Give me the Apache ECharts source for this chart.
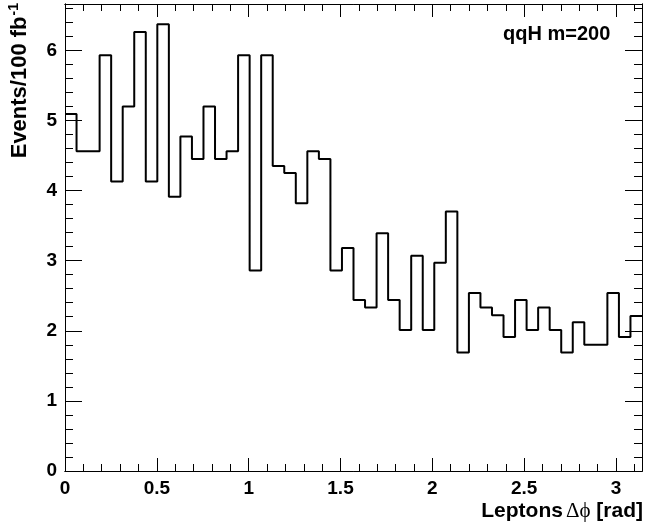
<!DOCTYPE html>
<html>
<head>
<meta charset="utf-8">
<script src="https://cdn.jsdelivr.net/npm/echarts@6/dist/echarts.min.js"></script>
<style>
  html, body { margin: 0; padding: 0; background: #fff; }
  #main { width: 645px; height: 529px; }
</style>
</head>
<body>
<div id="main"></div>
<script>
// histogram contents, 50 bins from 0 to pi
var binValues = [
    5.09, 4.56, 4.56, 5.93, 4.13, 5.20, 6.26, 4.13, 6.37, 3.91,
    4.77, 4.45, 5.20, 4.45, 4.56, 5.93, 2.86, 5.93, 4.35, 4.25,
    3.82, 4.56, 4.45, 2.86, 3.18, 2.44, 2.33, 3.39, 2.44, 2.01,
    3.07, 2.01, 2.97, 3.70, 1.69, 2.54, 2.33, 2.22, 1.91, 2.44,
    2.01, 2.33, 2.01, 1.69, 2.12, 1.80, 1.80, 2.54, 1.91, 2.21
];
var xMin = 0;
var xMax = Math.PI;
var yMin = 0;
var yMax = 6.66;

// tick labels / tick positions
var xMajor = [0, 0.5, 1, 1.5, 2, 2.5, 3];
var xMinor = [0.1, 0.2, 0.3, 0.4, 0.6, 0.7, 0.8, 0.9, 1.1, 1.2, 1.3, 1.4,
              1.6, 1.7, 1.8, 1.9, 2.1, 2.2, 2.3, 2.4, 2.6, 2.7, 2.8, 2.9, 3.1];
var yMajor = [0, 1, 2, 3, 4, 5, 6];
var yMinor = [0.2, 0.4, 0.6, 0.8, 1.2, 1.4, 1.6, 1.8, 2.2, 2.4, 2.6, 2.8,
              3.2, 3.4, 3.6, 3.8, 4.2, 4.4, 4.6, 4.8, 5.2, 5.4, 5.6, 5.8,
              6.2, 6.4, 6.6];

var FONT = '"Liberation Sans", Arial, Helvetica, sans-serif';

var myChart = echarts.init(document.getElementById('main'));

// step line points: left edge of every bin, plus the right edge of the last one
var binWidth = (xMax - xMin) / binValues.length;
var stepData = [];
for (var i = 0; i < binValues.length; i++) {
    stepData.push([xMin + i * binWidth, binValues[i]]);
}
stepData.push([xMax, binValues[binValues.length - 1]]);

function xAxisDef(pos, ticks, len, labels) {
    return {
        type: 'value', position: pos, min: xMin, max: xMax,
        axisLine: { show: true, onZero: false, lineStyle: { color: '#000', width: 1 } },
        axisTick: { show: true, inside: true, length: len, customValues: ticks,
                    lineStyle: { color: '#000', width: 1 } },
        axisLabel: labels ? {
            show: true, customValues: ticks, margin: 8,
            color: '#000', fontFamily: FONT, fontWeight: 'bold', fontSize: 19
        } : { show: false },
        splitLine: { show: false }
    };
}

function yAxisDef(pos, ticks, len, labels) {
    return {
        type: 'value', position: pos, min: yMin, max: yMax,
        axisLine: { show: true, onZero: false, lineStyle: { color: '#000', width: 1 } },
        axisTick: { show: true, inside: true, length: len, customValues: ticks,
                    lineStyle: { color: '#000', width: 1 } },
        axisLabel: labels ? {
            show: true, customValues: ticks, margin: 8,
            color: '#000', fontFamily: FONT, fontWeight: 'bold', fontSize: 19
        } : { show: false },
        splitLine: { show: false }
    };
}

option = {
    backgroundColor: '#fff',
    animation: false,
    grid: {
        left: 65, right: 3, top: 4, bottom: 58,
        outerBoundsMode: 'none'
    },
    xAxis: [
        xAxisDef('bottom', xMajor, 13, true),
        xAxisDef('bottom', xMinor, 7, false),
        xAxisDef('top', xMajor, 13, false),
        xAxisDef('top', xMinor, 7, false)
    ],
    yAxis: [
        yAxisDef('left', yMajor, 17, true),
        yAxisDef('left', yMinor, 8, false),
        yAxisDef('right', yMajor, 17, false),
        yAxisDef('right', yMinor, 8, false)
    ],
    series: [{
        type: 'line',
        xAxisIndex: 0,
        yAxisIndex: 0,
        step: 'end',
        data: stepData,
        symbol: 'none',
        lineStyle: { color: '#000', width: 2 },
        z: 3
    }],
    graphic: [
        {
            type: 'text', left: 503, top: 24,
            style: { text: 'qqH m=200', fill: '#000',
                     font: 'bold 20px ' + FONT }
        },
        {
            // y axis title, rotated, right-aligned to top of axis
            type: 'text', x: 19, y: 3, rotation: Math.PI / 2,
            style: {
                text: '{m|Events/100 fb}{s|-1}',
                align: 'right', verticalAlign: 'middle',
                rich: {
                    m: { fontFamily: FONT, fontWeight: 'bold', fontSize: 22, fill: '#000',
                         lineHeight: 24, verticalAlign: 'bottom' },
                    s: { fontFamily: FONT, fontWeight: 'bold', fontSize: 14, fill: '#000',
                         lineHeight: 24, verticalAlign: 'top', padding: [0, 0, 8, 1] }
                }
            }
        },
        {
            // x axis title, right-aligned to end of axis
            type: 'text', x: 643, y: 511,
            style: {
                text: '{b|Leptons}{g|\u0394\u03d5}{b| [rad]}',
                align: 'right', verticalAlign: 'middle',
                rich: {
                    b: { fontFamily: FONT, fontWeight: 'bold', fontSize: 21, fill: '#000' },
                    g: { fontFamily: '"Liberation Serif", "DejaVu Serif", serif', fontSize: 21,
                         fill: '#000', padding: [0, 0, 0, 3] }
                }
            }
        }
    ]
};

myChart.setOption(option);
</script>
</body>
</html>
